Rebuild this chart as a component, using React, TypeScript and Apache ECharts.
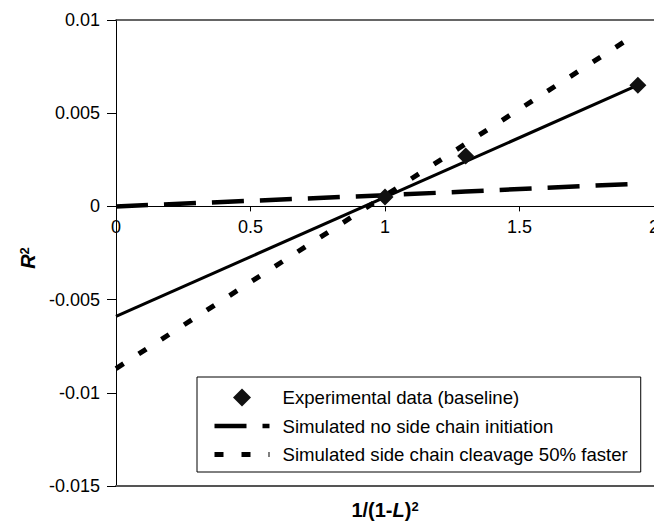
import React, { useEffect, useRef } from "react";
import * as echarts from "echarts";

const xTicks = [0, 0.5, 1, 1.5, 2];
const yTicks = [-0.015, -0.01, -0.005, 0, 0.005, 0.01];

const experimentalX = [1.0, 1.3, 1.94];
const experimentalY = [0.0005, 0.0027, 0.0065];

const fitX = [0, 1.94];
const fitY = [-0.0059, 0.0065];

const noSideChainX = [0, 1.0, 1.3, 1.94];
const noSideChainY = [0, 0.0006, 0.0008, 0.00122];

const fasterX = [0, 1.94];
const fasterY = [-0.0087, 0.0093];

const seriesNames = [
  "Experimental data (baseline)",
  "Simulated no side chain initiation",
  "Simulated side chain cleavage 50% faster",
];

const FONT = "'Liberation Sans', Arial, sans-serif";
const GRID_TOP = 20;
const GRID_BOTTOM_Y = 486;

const zip = (xs: number[], ys: number[]) => xs.map((x, i) => [x, ys[i]]);

export default function App() {
  const ref = useRef<HTMLDivElement>(null);
  useEffect(() => {
    if (!ref.current) return;
    const chart = echarts.init(ref.current, null, { renderer: "svg" });
    const fmt = (v: number) => String(Number(v.toFixed(4)));
    const yMin = yTicks[0];
    const yMax = yTicks[yTicks.length - 1];
    // pixel offset that lifts the labelled x axis up to y = 0
    const zeroOffset = -((0 - yMin) / (yMax - yMin)) * (GRID_BOTTOM_Y - GRID_TOP);
    const hidden = {
      axisTick: { show: false },
      axisLabel: { show: false },
      splitLine: { show: false },
    };
    const hideSymbol = { color: "rgba(0,0,0,0)", borderWidth: 0, opacity: 0 };
    chart.setOption({
      animation: false,
      backgroundColor: "#fff",
      textStyle: { fontFamily: FONT },
      grid: {
        left: 116,
        top: GRID_TOP,
        right: 0,
        bottom: 524 - GRID_BOTTOM_Y,
        containLabel: false,
        outerBoundsMode: "none",
      },
      legend: {
        orient: "vertical",
        left: 197,
        top: 377,
        data: [
          { name: seriesNames[0], icon: "path://M0,-10L10,0L0,10L-10,0Z" },
          { name: seriesNames[1], itemStyle: hideSymbol },
          { name: seriesNames[2], itemStyle: hideSymbol },
        ],
        symbolKeepAspect: true,
        backgroundColor: "#fff",
        borderColor: "#000",
        borderWidth: 1,
        borderRadius: 0,
        padding: [11, 13, 8, 15],
        itemWidth: 55,
        itemHeight: 18,
        itemGap: 9.5,
        lineStyle: { width: "inherit" },
        textStyle: { fontFamily: FONT, fontSize: 18.6, color: "#000", padding: [0, 0, 0, 8] },
      },
      xAxis: [
        {
          type: "value",
          position: "bottom",
          offset: zeroOffset,
          min: xTicks[0],
          max: xTicks[xTicks.length - 1],
          interval: 0.5,
          axisLine: { onZero: false, lineStyle: { color: "#000", width: 1 } },
          axisTick: { show: true, inside: false, length: 5, lineStyle: { color: "#000" } },
          axisLabel: { fontFamily: FONT, fontSize: 18, color: "#000", margin: 12, formatter: fmt },
          splitLine: { show: false },
        },
        {
          type: "value",
          position: "top",
          min: xTicks[0],
          max: xTicks[xTicks.length - 1],
          axisLine: { onZero: false, lineStyle: { color: "#333", width: 1.5 } },
          ...hidden,
        },
        {
          type: "value",
          position: "bottom",
          min: xTicks[0],
          max: xTicks[xTicks.length - 1],
          axisLine: { onZero: false, lineStyle: { color: "#555", width: 2 } },
          ...hidden,
          name: "{n|1/(1-}{i|L}{n|)}{s|2}",
          nameLocation: "middle",
          nameGap: 14,
          nameTextStyle: {
            fontFamily: FONT,
            fontWeight: "bold",
            fontSize: 20,
            color: "#000",
            rich: {
              n: { fontFamily: FONT, fontWeight: "bold", fontSize: 20, color: "#000" },
              i: { fontFamily: FONT, fontWeight: "bold", fontStyle: "italic", fontSize: 20, color: "#000" },
              s: { fontFamily: FONT, fontWeight: "bold", fontSize: 13, color: "#000", verticalAlign: "top" },
            },
          },
        },
      ],
      yAxis: {
        type: "value",
        min: yMin,
        max: yMax,
        interval: 0.005,
        axisLine: { show: true, onZero: false, lineStyle: { color: "#000", width: 1 } },
        axisTick: { show: true, inside: false, length: 9, lineStyle: { color: "#000" } },
        axisLabel: { fontFamily: FONT, fontSize: 18, color: "#000", margin: 16, formatter: fmt },
        splitLine: { show: false },
        name: "{r|R}{s|2}",
        nameLocation: "middle",
        nameGap: 66,
        nameRotate: 90,
        nameTextStyle: {
          fontFamily: FONT,
          fontWeight: "bold",
          fontSize: 20,
          color: "#000",
          padding: [0, 10, 0, 0],
          rich: {
            r: { fontFamily: FONT, fontWeight: "bold", fontStyle: "italic", fontSize: 20, color: "#000" },
            s: { fontFamily: FONT, fontWeight: "bold", fontSize: 13, color: "#000", verticalAlign: "top" },
          },
        },
      },
      series: [
        {
          name: "Linear fit",
          type: "line",
          data: zip(fitX, fitY),
          symbol: "none",
          lineStyle: { color: "#000", width: 3, type: "solid" },
          z: 3,
        },
        {
          name: seriesNames[1],
          type: "line",
          data: zip(noSideChainX, noSideChainY),
          symbol: "none",
          color: "#000",
          lineStyle: { color: "#000", width: 4.5, type: [32, 16] },
          z: 2,
        },
        {
          name: seriesNames[2],
          type: "line",
          data: zip(fasterX, fasterY),
          symbol: "none",
          color: "#000",
          lineStyle: { color: "#000", width: 5, type: [9, 18] },
          z: 2,
        },
        {
          name: seriesNames[0],
          type: "scatter",
          data: zip(experimentalX, experimentalY),
          symbol: "diamond",
          symbolSize: 17,
          itemStyle: { color: "#111", opacity: 1 },
          z: 5,
        },
      ],
    });
    return () => chart.dispose();
  }, []);
  return (
    <div
      ref={ref}
      style={{ position: "fixed", left: 0, top: 0, width: 654, height: 524, background: "#fff" }}
    />
  );
}
